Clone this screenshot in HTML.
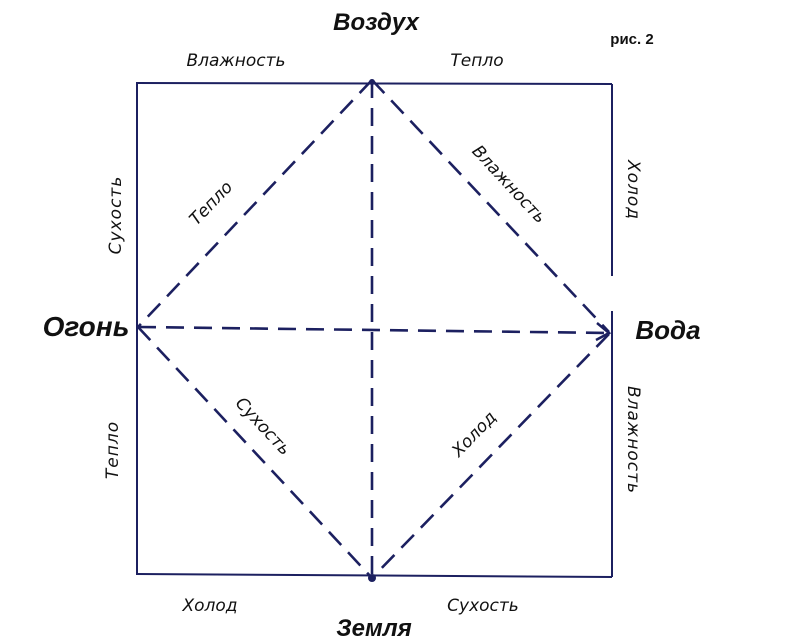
<!DOCTYPE html>
<html><head><meta charset="utf-8"><style>
html,body{margin:0;padding:0;background:#fff;width:796px;height:643px;overflow:hidden}
svg{display:block}
text{font-family:"Liberation Sans","DejaVu Sans",sans-serif;fill:#111;font-style:italic}
text.s{font-family:"DejaVu Sans","Liberation Sans",sans-serif;font-size:17px}
</style></head><body>
<svg width="796" height="643" viewBox="0 0 796 643">
<g stroke="#1c2060" stroke-width="2" fill="none">
<line x1="136" y1="83" x2="612" y2="84"/>
<line x1="137" y1="83" x2="137" y2="575"/>
<line x1="137" y1="574" x2="612" y2="577"/>
<line x1="612" y1="84" x2="612" y2="276"/>
<line x1="612" y1="311" x2="612" y2="577"/>
</g>
<g stroke="#1c2060" stroke-width="2.6" fill="none" stroke-dasharray="18,10">
<line x1="372" y1="80" x2="138" y2="327"/>
<line x1="372" y1="80" x2="609" y2="332"/>
<line x1="138" y1="327" x2="372" y2="578"/>
<line x1="609" y1="334" x2="372" y2="578"/>
<line x1="138" y1="327" x2="609" y2="333"/>
<line x1="372" y1="80" x2="372" y2="578"/>
</g>
<g stroke="#1c2060" stroke-width="2.5" fill="none">
<polyline points="597,323 609,333 596,340"/>
</g>
<circle cx="372" cy="578" r="4" fill="#1c2060"/>
<circle cx="372" cy="82" r="3" fill="#1c2060"/>
<text x="376" y="30" font-size="24" font-weight="bold" text-anchor="middle">Воздух</text>
<text x="632" y="44" font-size="15" font-weight="bold" text-anchor="middle" style="font-style:normal">рис. 2</text>
<text class="s" x="236" y="66" text-anchor="middle">Влажность</text>
<text class="s" x="477" y="66" text-anchor="middle">Тепло</text>
<text x="86" y="336" font-size="28" font-weight="bold" text-anchor="middle">Огонь</text>
<text x="668" y="339" font-size="26" font-weight="bold" text-anchor="middle">Вода</text>
<text class="s" x="210" y="611" text-anchor="middle">Холод</text>
<text class="s" x="483" y="611" text-anchor="middle">Сухость</text>
<text x="374" y="636" font-size="24" font-weight="bold" text-anchor="middle">Земля</text>
<text class="s" transform="translate(121,215) rotate(-90)" text-anchor="middle" letter-spacing="1">Сухость</text>
<text class="s" transform="translate(118,450) rotate(-90)" text-anchor="middle" letter-spacing="1">Тепло</text>
<text class="s" transform="translate(628,190) rotate(90)" text-anchor="middle" letter-spacing="1">Холод</text>
<text class="s" transform="translate(628,440) rotate(90)" text-anchor="middle" letter-spacing="1">Влажность</text>
<text class="s" transform="translate(215,207) rotate(-46)" text-anchor="middle">Тепло</text>
<text class="s" transform="translate(505,188) rotate(47)" text-anchor="middle">Влажность</text>
<text class="s" transform="translate(259,430) rotate(47)" text-anchor="middle">Сухость</text>
<text class="s" transform="translate(478,438) rotate(-46)" text-anchor="middle">Холод</text>
</svg>
</body></html>
